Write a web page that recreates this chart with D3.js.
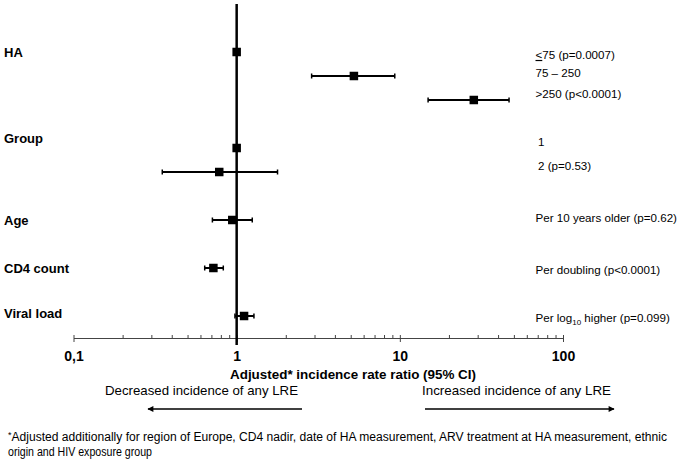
<!DOCTYPE html>
<html>
<head>
<meta charset="utf-8">
<script src="https://cdn.jsdelivr.net/npm/d3@7"></script>
<style>
  body { margin: 0; background: #fff; }
  text { font-family: "Liberation Sans", Arial, sans-serif; fill: #000; }
</style>
</head>
<body>
<div id="chart"></div>
<script>
// forest plot data
var groupLabels = ["HA", "Group", "Age", "CD4 count", "Viral load"];
var rowLabels = ["\u226475 (p=0.0007)", "75 \u2013 250", ">250 (p<0.0001)", "1", "2 (p=0.53)",
                 "Per 10 years older (p=0.62)", "Per doubling (p<0.0001)", "Per log10 higher (p=0.099)"];
var estimate = [1, 5.23, 28.4, 1, 0.782, 0.94, 0.72, 1.11];
var lower    = [null, 2.88, 14.9, null, 0.35, 0.71, 0.637, 0.976];
var upper    = [null, 9.31, 46.7, null, 1.78, 1.246, 0.828, 1.276];
var majorTicks = [0.1, 1, 10, 100];
var tickLabels = ["0,1", "1", "10", "100"];

// layout (row slots, 24px apart)
var rowSlot = [0, 1, 2, 4, 5, 7, 9, 11];
var groupSlot = [0, 3.6, 7, 9, 10.9];
var labelSlot = [0.12, 0.88, 1.75, 3.75, 4.75, 6.92, 9.08, 11.08];

const w = 680, h = 461;
const axisY = 338;

const svg = d3.select("#chart").append("svg")
  .attr("width", w)
  .attr("height", h);

const x = d3.scaleLog().domain([0.1, 100]).range([73.5, 563]);
const y = d3.scaleLinear().domain([0, 11]).range([52, 316]);

// minor ticks (above the axis line)
var minor = [];
[0.1, 1, 10].forEach(function(d){
  for (var k = 2; k <= 9; k++) minor.push(d * k);
});

svg.append("g")
  .attr("transform", "translate(0," + axisY + ")")
  .call(d3.axisTop(x).tickValues(minor).tickSize(3).tickFormat(""))
  .call(g => g.select(".domain").remove())
  .selectAll("line").attr("stroke", "#444");

// major ticks, both sides
svg.append("g")
  .attr("transform", "translate(0," + axisY + ")")
  .call(d3.axisTop(x).tickValues(majorTicks).tickSize(3).tickFormat(""))
  .call(g => g.select(".domain").remove())
  .selectAll("line").attr("stroke", "#444");

const xAxis = svg.append("g")
  .attr("transform", "translate(0," + axisY + ")")
  .call(d3.axisBottom(x).tickValues(majorTicks).tickSizeInner(4).tickSizeOuter(0)
        .tickPadding(9).tickFormat((d, i) => tickLabels[i]));
xAxis.select(".domain").attr("stroke", "#444");
xAxis.selectAll("line").attr("stroke", "#444");
xAxis.selectAll("text")
  .attr("font-family", "Liberation Sans, Arial, sans-serif")
  .attr("font-size", 14)
  .attr("font-weight", "bold")
  .attr("fill", "#000");

// reference line at 1
svg.append("line")
  .attr("x1", x(1)).attr("x2", x(1))
  .attr("y1", 4).attr("y2", 345)
  .attr("stroke", "#000")
  .attr("stroke-width", 2.5);

// confidence intervals
var ci = d3.range(estimate.length).filter(i => lower[i] != null);

svg.selectAll("line.ci")
  .data(ci)
  .enter().append("line")
  .attr("class", "ci")
  .attr("x1", i => x(lower[i]))
  .attr("x2", i => x(upper[i]))
  .attr("y1", i => y(rowSlot[i]))
  .attr("y2", i => y(rowSlot[i]))
  .attr("stroke", "#000")
  .attr("stroke-width", 2);

["lo", "hi"].forEach(function(side){
  svg.selectAll("line.cap-" + side)
    .data(ci)
    .enter().append("line")
    .attr("class", "cap-" + side)
    .attr("x1", i => x(side == "lo" ? lower[i] : upper[i]))
    .attr("x2", i => x(side == "lo" ? lower[i] : upper[i]))
    .attr("y1", i => y(rowSlot[i]) - 2.5)
    .attr("y2", i => y(rowSlot[i]) + 2.5)
    .attr("stroke", "#000")
    .attr("stroke-width", 1.5);
});

// point estimates
const sq = 8.5;
svg.selectAll("rect.est")
  .data(estimate)
  .enter().append("rect")
  .attr("class", "est")
  .attr("x", d => x(d) - sq / 2)
  .attr("y", (d, i) => y(rowSlot[i]) - sq / 2)
  .attr("width", sq)
  .attr("height", sq)
  .attr("fill", "#000");

// left group labels
svg.selectAll("text.grp")
  .data(groupLabels)
  .enter().append("text")
  .attr("class", "grp")
  .attr("x", 4)
  .attr("y", (d, i) => y(groupSlot[i]))
  .attr("dy", "0.35em")
  .attr("font-size", 13)
  .attr("font-weight", "bold")
  .text(d => d);

// right labels
var rl = svg.selectAll("text.row")
  .data(rowLabels)
  .enter().append("text")
  .attr("class", "row")
  .attr("x", (d, i) => (i == 3 || i == 4) ? 538 : 535.5)
  .attr("y", (d, i) => y(labelSlot[i]))
  .attr("dy", "0.35em")
  .attr("font-size", 11.6);

rl.each(function(d){
  var t = d3.select(this);
  if (d.charAt(0) == "\u2264") {
    t.append("tspan").attr("text-decoration", "underline").text("<");
    t.append("tspan").text(d.slice(1));
  } else if (d.indexOf("log10") >= 0) {
    t.append("tspan").text("Per log");
    t.append("tspan").attr("font-size", 8).attr("dy", "3").text("10");
    t.append("tspan").attr("dy", "-3").text(" higher (p=0.099)");
  } else {
    t.text(d);
  }
});

// axis title
svg.append("text")
  .attr("x", 353)
  .attr("y", 379)
  .attr("text-anchor", "middle")
  .attr("font-size", 13)
  .attr("font-weight", "bold")
  .attr("textLength", 246)
  .attr("lengthAdjust", "spacingAndGlyphs")
  .text("Adjusted* incidence rate ratio (95% CI)");

// direction notes with arrows
svg.append("defs").append("marker")
  .attr("id", "arr")
  .attr("viewBox", "0 0 10 10")
  .attr("refX", 9).attr("refY", 5)
  .attr("markerWidth", 7).attr("markerHeight", 6)
  .attr("markerUnits", "userSpaceOnUse")
  .attr("orient", "auto")
  .append("path")
  .attr("d", "M0,0 L10,5 L0,10 Z")
  .attr("fill", "#000");

svg.append("text")
  .attr("x", 105).attr("y", 395)
  .attr("font-size", 13.5)
  .attr("textLength", 193)
  .attr("lengthAdjust", "spacingAndGlyphs")
  .text("Decreased incidence of any LRE");

svg.append("text")
  .attr("x", 422).attr("y", 395)
  .attr("font-size", 13.5)
  .attr("textLength", 189)
  .attr("lengthAdjust", "spacingAndGlyphs")
  .text("Increased incidence of any LRE");

svg.append("line")
  .attr("x1", 302).attr("x2", 148)
  .attr("y1", 409).attr("y2", 409)
  .attr("stroke", "#000").attr("stroke-width", 1.5)
  .attr("marker-end", "url(#arr)");

svg.append("line")
  .attr("x1", 425).attr("x2", 614)
  .attr("y1", 409).attr("y2", 409)
  .attr("stroke", "#000").attr("stroke-width", 1.5)
  .attr("marker-end", "url(#arr)");

// footnote
var fn = svg.append("text")
  .attr("x", 8).attr("y", 441)
  .attr("font-size", 12)
  .attr("textLength", 659)
  .attr("lengthAdjust", "spacingAndGlyphs");
fn.append("tspan").attr("font-size", 9).attr("dy", "-3").text("*");
fn.append("tspan").attr("dy", "3")
  .text("Adjusted additionally for region of Europe, CD4 nadir, date of HA measurement, ARV treatment at HA measurement, ethnic");

svg.append("text")
  .attr("x", 8).attr("y", 456)
  .attr("font-size", 12)
  .attr("textLength", 144)
  .attr("lengthAdjust", "spacingAndGlyphs")
  .text("origin and HIV exposure group");
</script>
</body>
</html>
